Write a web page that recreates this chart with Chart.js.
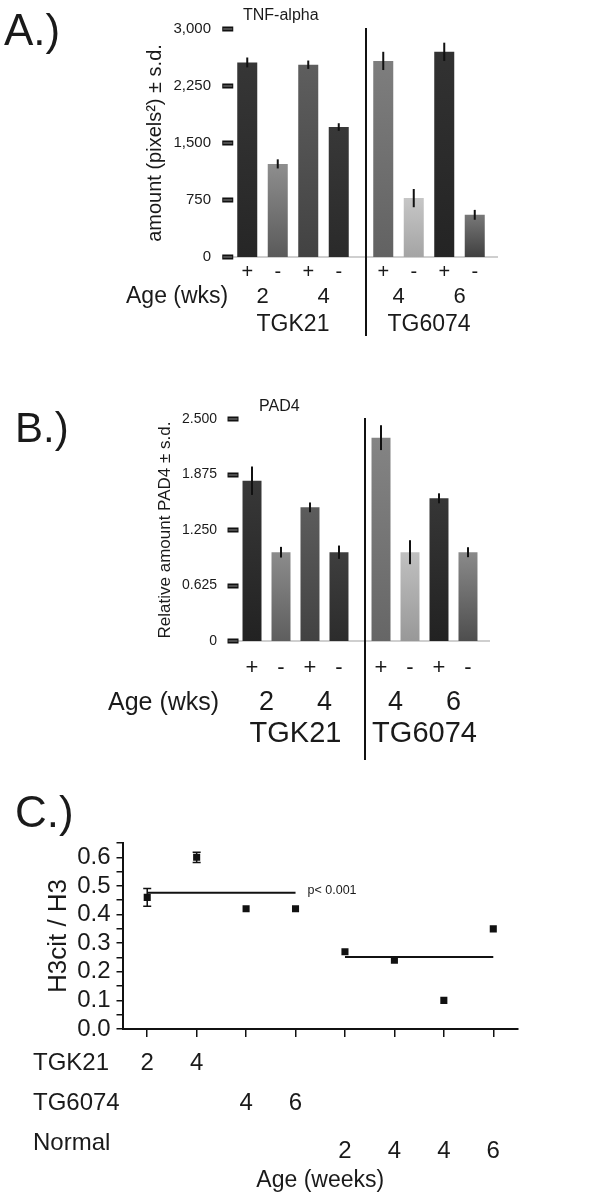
<!DOCTYPE html>
<html>
<head>
<meta charset="utf-8">
<script src="https://cdn.jsdelivr.net/npm/chart.js@4.4.1/dist/chart.umd.min.js"></script>
<style>
  body { margin: 0; background: #fff; }
  .panel { position: absolute; left: 0; width: 614px; }
</style>
</head>
<body>
<div class="panel" style="top:0"><canvas id="chartA" width="614" height="340"></canvas></div>
<div class="panel" style="top:340px"><canvas id="chartB" width="614" height="420"></canvas></div>
<div class="panel" style="top:760px"><canvas id="chartC" width="614" height="440"></canvas></div>
<script>
// groups / ages / treatment shared by panels A and B
const groups = ['TGK21', 'TG6074'];
const groupAges = [['2', '4'], ['4', '6']];
const signs = ['+', '-', '+', '-'];

// A.) TNF-alpha
const tnfValues = [2560, 1225, 2530, 1710, 2580, 775, 2700, 555];
const tnfErrors = [65, 60, 55, 50, 120, 120, 120, 65];
const tnfTicks = [0, 750, 1500, 2250, 3000];
const tnfTickLabels = ['0', '750', '1,500', '2,250', '3,000'];

// B.) PAD4
const padValues = [1.805, 1.0, 1.505, 1.0, 2.29, 1.0, 1.607, 1.0];
const padErrors = [0.16, 0.06, 0.055, 0.075, 0.14, 0.135, 0.056, 0.056];
const padTicks = [0, 0.625, 1.25, 1.875, 2.5];
const padTickLabels = ['0', '0.625', '1.250', '1.875', '2.500'];

// C.) H3cit / H3
const cRows = ['TGK21', 'TG6074', 'Normal'];
const cSeries = ['TGK21', 'TGK21', 'TG6074', 'TG6074', 'Normal', 'Normal', 'Normal', 'Normal'];
const cAges = ['2', '4', '4', '6', '2', '4', '4', '6'];
const cValues = [0.46, 0.60, 0.42, 0.42, 0.27, 0.24, 0.10, 0.35];
const cErrors = [0.031, 0.018, 0, 0, 0, 0, 0, 0];
const cMeanGroup = [0, 0, 0, 0, 1, 1, 1, 1];
const cMeans = [0.476, 0.252];
const cTickLabels = ['0.0', '0.1', '0.2', '0.3', '0.4', '0.5', '0.6'];

const FONT = '"Liberation Sans", Arial, Helvetica, sans-serif';
const INK = '#1a1a1a';

// bar shading, top -> bottom
const shadesA = [['#363636', '#262626'], ['#8e8e8e', '#5a5a5a'], ['#5e5e5e', '#424242'], ['#383838', '#2a2a2a'],
                 ['#7e7e7e', '#626262'], ['#c6c6c6', '#a4a4a4'], ['#323232', '#242424'], ['#787878', '#404040']];
const shadesB = [['#383838', '#222222'], ['#8c8c8c', '#5e5e5e'], ['#5c5c5c', '#424242'], ['#3e3e3e', '#2c2c2c'],
                 ['#848484', '#666666'], ['#c0c0c0', '#989898'], ['#363636', '#222222'], ['#8a8a8a', '#4e4e4e']];

Chart.defaults.font.family = FONT;
Chart.defaults.color = INK;
Chart.defaults.animation = false;
Chart.defaults.plugins.legend.display = false;
Chart.defaults.plugins.tooltip.enabled = false;

function text(ctx, str, x, y, size, align, baseline) {
    ctx.font = size + 'px ' + FONT;
    ctx.textAlign = align || 'left';
    ctx.textBaseline = baseline || 'alphabetic';
    ctx.fillStyle = INK;
    ctx.fillText(str, x, y);
}

function barFill(ctx, shades) {
    const i = ctx.dataIndex * signs.length + ctx.datasetIndex;
    const top = shades[i][0], bottom = shades[i][1];
    const chart = ctx.chart;
    const ys = chart.scales && chart.scales.y;
    if (!ys || !chart.chartArea) return bottom;
    const y0 = ys.getPixelForValue(0), y1 = ys.getPixelForValue(ctx.raw);
    if (!isFinite(y0) || !isFinite(y1) || y0 === y1) return bottom;
    const g = chart.ctx.createLinearGradient(0, y1, 0, y0);
    g.addColorStop(0, top);
    g.addColorStop(1, bottom);
    return g;
}

function drawBarExtras(chart, values, errors, ticks, o) {
    const { ctx, chartArea: area, scales: { x, y } } = chart;
    const metas = signs.map((s, j) => chart.getDatasetMeta(j));
    const bar = i => metas[i % signs.length].data[Math.floor(i / signs.length)];
    ctx.save();

    // "=" tick marks on the value axis
    const first = bar(0);
    const dashRight = first.x - first.width / 2 - 4;
    ticks.forEach(v => {
        const py = Math.round(y.getPixelForValue(v));
        ctx.fillStyle = '#111';
        ctx.fillRect(dashRight - 11, py - 2.5, 11, 5);
        ctx.fillStyle = '#8a8a8a';
        ctx.fillRect(dashRight - 10, py - 0.5, 9, 1);
    });

    // error bars
    ctx.strokeStyle = '#111';
    ctx.lineWidth = 2;
    values.forEach((v, i) => {
        const el = bar(i);
        ctx.beginPath();
        ctx.moveTo(el.x, y.getPixelForValue(v + errors[i]));
        ctx.lineTo(el.x, y.getPixelForValue(v - errors[i]));
        ctx.stroke();
    });

    // divider between the two strains
    const lastLeft = bar(signs.length - 1), firstRight = bar(signs.length);
    const dx = (lastLeft.x + lastLeft.width / 2 + firstRight.x - firstRight.width / 2) / 2 + 5;
    ctx.beginPath();
    ctx.moveTo(dx, area.top - 1);
    ctx.lineTo(dx, o.dividerBottom);
    ctx.stroke();

    // +/- row, ages, strains
    values.forEach((v, i) => text(ctx, signs[i % signs.length], bar(i).x, area.bottom + o.signDy, o.signSize, 'center', 'middle'));
    groups.forEach((g, gi) => {
        groupAges[gi].forEach((age, p) => {
            const a = bar(gi * 4 + p * 2), b = bar(gi * 4 + p * 2 + 1);
            text(ctx, age, (a.x + b.x) / 2, area.bottom + o.ageDy, o.ageSize, 'center', 'middle');
        });
        text(ctx, g, x.getPixelForValue(gi), area.bottom + o.groupDy, o.groupSize, 'center', 'middle');
    });
    text(ctx, 'Age (wks)', o.ageLabelX, area.bottom + o.ageDy, o.ageLabelSize, 'left', 'middle');

    text(ctx, o.header, o.headerX, o.headerY, o.headerSize, 'left', 'middle');
    text(ctx, o.letter, o.letterX, o.letterY, o.letterSize);
    ctx.restore();
}

function barPanel(id, values, errors, ticks, tickLabels, shades, o) {
    const datasets = signs.map((s, j) => ({
        label: s,
        data: groups.map((g, gi) => values[gi * signs.length + j]),
        backgroundColor: ctx => barFill(ctx, shades),
        borderWidth: 0,
        categoryPercentage: o.catPct,
        barPercentage: o.barPct
    }));
    return new Chart(document.getElementById(id), {
        type: 'bar',
        data: { labels: groups, datasets: datasets },
        options: {
            responsive: false,
            layout: { padding: o.padding },
            scales: {
                x: {
                    grid: { display: false, drawTicks: false },
                    ticks: { display: false },
                    border: { display: true, color: '#cfcfcf', width: 2 },
                    afterFit: s => { s.height = 0; }
                },
                y: {
                    min: 0,
                    max: ticks[ticks.length - 1],
                    afterBuildTicks: s => { s.ticks = ticks.map(v => ({ value: v })); },
                    ticks: {
                        padding: 14,
                        font: { size: o.tickSize },
                        color: INK,
                        callback: (v, i) => tickLabels[i]
                    },
                    grid: { display: false, drawTicks: false },
                    border: { display: false },
                    title: {
                        display: true,
                        text: o.yTitle,
                        font: { size: o.yTitleSize },
                        color: INK,
                        padding: { top: 5, bottom: 0 }
                    },
                    afterFit: s => { s.width = o.yWidth; }
                }
            }
        },
        plugins: [{ id: 'barExtras', afterDatasetsDraw: chart => drawBarExtras(chart, values, errors, ticks, o) }]
    });
}

barPanel('chartA', tnfValues, tnfErrors, tnfTicks, tnfTickLabels, shadesA, {
    padding: { left: 138, right: 117, top: 29, bottom: 83 },
    yWidth: 87, catPct: 0.897, barPct: 0.656,
    tickSize: 15, yTitle: 'amount (pixels²) ± s.d.', yTitleSize: 20,
    signDy: 15, signSize: 20, ageDy: 40, ageSize: 22, ageLabelSize: 23, ageLabelX: 126,
    groupDy: 68, groupSize: 23, dividerBottom: 336,
    header: 'TNF-alpha', headerX: 243, headerY: 16, headerSize: 16,
    letter: 'A.)', letterX: 4, letterY: 45, letterSize: 44
});

barPanel('chartB', padValues, padErrors, padTicks, padTickLabels, shadesB, {
    padding: { left: 150, right: 125, top: 79, bottom: 119 },
    yWidth: 81, catPct: 0.899, barPct: 0.655,
    tickSize: 14, yTitle: 'Relative amount PAD4 ± s.d.', yTitleSize: 17,
    signDy: 27, signSize: 22, ageDy: 62, ageSize: 27, ageLabelSize: 25, ageLabelX: 108,
    groupDy: 93, groupSize: 29, dividerBottom: 420,
    header: 'PAD4', headerX: 259, headerY: 67, headerSize: 16,
    letter: 'B.)', letterX: 15, letterY: 102, letterSize: 42
});

// C.) scatter with group means
const rowBase = [41, 81, 121];
const rowNumDy = [0, 0, 8];

new Chart(document.getElementById('chartC'), {
    type: 'line',
    data: {
        labels: cAges.map((a, i) => cSeries[i] + ' ' + a),
        datasets: [
            {
                data: cValues,
                showLine: false,
                pointStyle: 'rect',
                pointRadius: 5,
                pointBackgroundColor: '#111',
                pointBorderWidth: 0
            }
        ].concat(cMeans.map((m, k) => ({
            data: cMeanGroup.map(g => g === k ? m : null),
            borderColor: '#111',
            borderWidth: 2,
            pointRadius: 0
        })))
    },
    options: {
        responsive: false,
        layout: { padding: { left: 40, right: 96, top: 83, bottom: 163 } },
        scales: {
            x: {
                offset: true,
                grid: { display: true, drawOnChartArea: false, drawTicks: true, tickLength: 8, color: '#111', lineWidth: 1.5, offset: false },
                border: { display: true, color: '#111', width: 2 },
                ticks: { display: false, autoSkip: false },
                afterFit: s => { s.height = 8; }
            },
            y: {
                min: 0,
                max: 0.65,
                ticks: {
                    stepSize: 0.05,
                    autoSkip: false,
                    padding: 6,
                    font: { size: 24 },
                    color: INK,
                    callback: (v, i) => i % 2 === 0 ? cTickLabels[i / 2] : ''
                },
                grid: { display: true, drawOnChartArea: false, drawTicks: true, tickLength: 6, color: '#111', lineWidth: 1.5 },
                border: { display: true, color: '#111', width: 2 },
                title: { display: true, text: 'H3cit / H3', font: { size: 26 }, color: INK, padding: { top: 3, bottom: 0 } },
                afterFit: s => { s.width = 82.5; }
            }
        }
    },
    plugins: [{
        id: 'scatterExtras',
        afterDatasetsDraw(chart) {
            const { ctx, chartArea: area, scales: { x, y } } = chart;
            ctx.save();
            ctx.strokeStyle = '#111';
            ctx.lineWidth = 1.5;
            cValues.forEach((v, i) => {
                if (!cErrors[i]) return;
                const px = x.getPixelForValue(i);
                const hi = y.getPixelForValue(v + cErrors[i]), lo = y.getPixelForValue(v - cErrors[i]);
                ctx.beginPath();
                ctx.moveTo(px, hi); ctx.lineTo(px, lo);
                ctx.moveTo(px - 4, hi); ctx.lineTo(px + 4, hi);
                ctx.moveTo(px - 4, lo); ctx.lineTo(px + 4, lo);
                ctx.stroke();
            });

            const lastOfFirst = cMeanGroup.lastIndexOf(0);
            text(ctx, 'p< 0.001', x.getPixelForValue(lastOfFirst) + 12, y.getPixelForValue(cMeans[0]) - 2, 12.5, 'left', 'middle');

            cRows.forEach((row, r) => {
                text(ctx, row, 33, area.bottom + rowBase[r], 24);
                cSeries.forEach((s, i) => {
                    if (s === row) text(ctx, cAges[i], x.getPixelForValue(i), area.bottom + rowBase[r] + rowNumDy[r], 24, 'center');
                });
            });
            text(ctx, 'Age (weeks)', (area.left + area.right) / 2, area.bottom + 158, 23, 'center');
            text(ctx, 'C.)', 15, 67, 44);
            ctx.restore();
        }
    }]
});
</script>
</body>
</html>
